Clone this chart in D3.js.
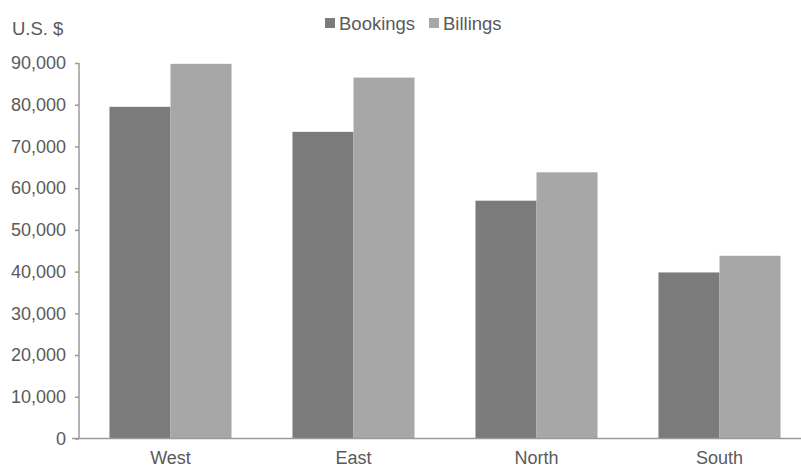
<!DOCTYPE html>
<html>
<head>
<meta charset="utf-8">
<script src="https://cdn.jsdelivr.net/npm/d3@7"></script>
<style>
  body { margin: 0; background: #fff; }
  svg { display: block; }
  text { font-family: "Liberation Sans", Arial, sans-serif; fill: #5a5a5a; }
</style>
</head>
<body>
<svg id="chart" width="801" height="468"></svg>
<script>
const categories = ["West", "East", "North", "South"];
const seriesNames = ["Bookings", "Billings"];
const bookings = [79500, 73500, 57000, 39800];
const billings = [89800, 86500, 63800, 43800];
const yTicks = [0, 10000, 20000, 30000, 40000, 50000, 60000, 70000, 80000, 90000];
const colors = ["#7b7b7b", "#a7a7a7"];

const svg = d3.select("#chart");
const W = 801, H = 468;
const x0 = 79, y0 = 438.5, yTop = 63;

const x = d3.scaleBand().domain(categories)
  .range([x0, x0 + 183 * 4]).paddingInner(0.333).paddingOuter(0.1665);
const xs = d3.scaleBand().domain(seriesNames).range([0, x.bandwidth()]);
const y = d3.scaleLinear().domain([0, 90000]).range([y0, yTop]);

const data = categories.map((c, i) => ({ cat: c, vals: [bookings[i], billings[i]] }));

// bars
const g = svg.append("g");
g.selectAll("g.grp").data(data).join("g")
  .attr("transform", d => `translate(${x(d.cat)},0)`)
  .selectAll("rect").data(d => d.vals.map((v, k) => ({ v, k })))
  .join("rect")
  .attr("x", d => xs(seriesNames[d.k]))
  .attr("width", xs.bandwidth())
  .attr("y", d => y(d.v))
  .attr("height", d => y0 - y(d.v))
  .attr("fill", d => colors[d.k]);

// y axis
const yAxis = d3.axisLeft(y).tickValues(yTicks).tickSize(4).tickPadding(9)
  .tickFormat(d3.format(","));
const ya = svg.append("g").attr("transform", `translate(${x0},0)`).call(yAxis);
ya.select(".domain").attr("stroke", "#9a9a9a").attr("stroke-width", 1.5)
  .attr("d", `M0,${yTop}V${y0}`);
ya.selectAll(".tick line").attr("stroke", "#9a9a9a").attr("stroke-width", 1.5);
ya.selectAll(".tick text").style("font-size", "18px").attr("fill", "#5a5a5a")
  .style("font-family", "'Liberation Sans', Arial, sans-serif");

// x baseline
svg.append("line").attr("x1", 72).attr("x2", W).attr("y1", y0).attr("y2", y0)
  .attr("stroke", "#9a9a9a").attr("stroke-width", 1.5);

// x labels
const xAxis = d3.axisBottom(x).tickSize(0).tickPadding(0);
const xa = svg.append("g").attr("transform", `translate(0,${y0})`).call(xAxis);
xa.select(".domain").remove();
xa.selectAll(".tick text").attr("y", 25.5).attr("dy", 0)
  .style("font-size", "18px").attr("fill", "#5a5a5a")
  .style("font-family", "'Liberation Sans', Arial, sans-serif");

// unit label
svg.append("text").attr("x", 12).attr("y", 35).style("font-size", "18.5px").text("U.S. $");

// legend
const legendX = [325, 429];
const lg = svg.append("g");
seriesNames.forEach((s, k) => {
  lg.append("rect").attr("x", legendX[k]).attr("y", 18).attr("width", 10).attr("height", 10)
    .attr("fill", colors[k]);
  lg.append("text").attr("x", legendX[k] + 14).attr("y", 29.5).style("font-size", "18.5px").text(s);
});
</script>
</body>
</html>
